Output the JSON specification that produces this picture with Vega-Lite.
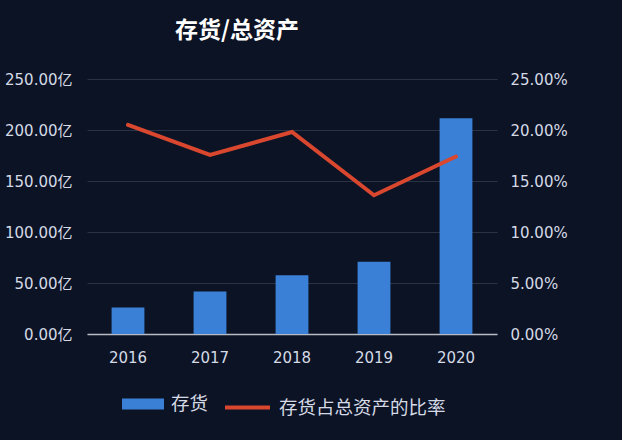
{
  "$schema": "https://vega.github.io/schema/vega-lite/v6.json",
  "width": 410,
  "height": 255,
  "autosize": {"type": "none"},
  "padding": {"left": 87, "top": 79, "right": 125, "bottom": 106},
  "background": "#0c1325",
  "title": {
    "text": "存货/总资产",
    "anchor": "start",
    "frame": "group",
    "dx": 88,
    "offset": 29,
    "font": "Noto Sans CJK SC",
    "fontSize": 23,
    "fontWeight": "bold",
    "color": "#ffffff"
  },
  "config": {
    "view": {"stroke": null},
    "font": "Noto Sans CJK SC",
    "axis": {"labelFont": "DejaVu Sans, Noto Sans CJK SC", "labelColor": "#d5dae5", "labelFontSize": 15, "title": null},
    "legend": {"labelFont": "Noto Sans CJK SC", "labelColor": "#d5dae5", "labelFontSize": 18.5, "padding": 0, "title": null, "labelLimit": 400}
  },
  "data": {
    "values": [
      {"year": "2016", "inv": 25.9, "ratio": 20.5},
      {"year": "2017", "inv": 41.6, "ratio": 17.55},
      {"year": "2018", "inv": 57.5, "ratio": 19.8},
      {"year": "2019", "inv": 70.9, "ratio": 13.6},
      {"year": "2020", "inv": 211.5, "ratio": 17.4}
    ]
  },
  "encoding": {
    "x": {
      "field": "year",
      "type": "nominal",
      "scale": {"paddingInner": 0.6, "paddingOuter": 0.3},
      "axis": {"labelAngle": 0, "ticks": false, "domainColor": "#b8bcc4", "domainWidth": 1.5, "labelPadding": 16, "grid": false}
    }
  },
  "layer": [
    {
      "mark": {"type": "bar", "color": "#3a80d6"},
      "encoding": {
        "y": {
          "field": "inv",
          "type": "quantitative",
          "scale": {"domain": [0, 250]},
          "axis": {
            "values": [0, 50, 100, 150, 200, 250],
            "labelExpr": "format(datum.value, '.2f') + '亿'",
            "domain": false,
            "ticks": false,
            "grid": true,
            "gridColor": "#2a3245",
            "gridWidth": 1,
            "labelPadding": 15
          }
        },
        "fill": {
          "datum": "存货",
          "type": "nominal",
          "scale": {"range": ["#3a80d6"]},
          "legend": {
            "orient": "none",
            "legendX": 35,
            "legendY": 304,
            "symbolType": "M-1,-0.26H1V0.26H-1Z",
            "symbolSize": 1764,
            "symbolStrokeWidth": 0,
            "labelOffset": 7
          }
        }
      }
    },
    {
      "mark": {"type": "line", "strokeWidth": 4, "color": "#d9472f", "strokeCap": "round"},
      "encoding": {
        "y": {
          "field": "ratio",
          "type": "quantitative",
          "scale": {"domain": [0, 25]},
          "axis": {
            "orient": "right",
            "values": [0, 5, 10, 15, 20, 25],
            "labelExpr": "format(datum.value, '.2f') + '%'",
            "domain": false,
            "ticks": false,
            "grid": false,
            "labelPadding": 13
          }
        },
        "stroke": {
          "datum": "存货占总资产的比率",
          "type": "nominal",
          "scale": {"range": ["#d9472f"]},
          "legend": {
            "orient": "none",
            "legendX": 136,
            "legendY": 304,
            "symbolType": "stroke",
            "symbolSize": 2025,
            "symbolStrokeWidth": 4,
            "labelOffset": 7
          }
        }
      }
    }
  ],
  "resolve": {"scale": {"y": "independent"}}
}
